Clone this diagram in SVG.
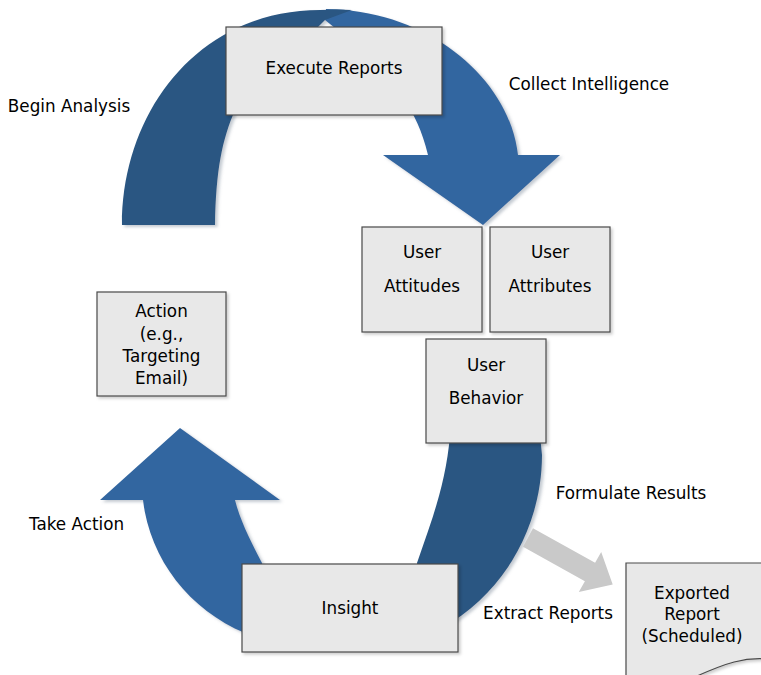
<svg xmlns="http://www.w3.org/2000/svg" width="761" height="675" viewBox="0 0 761 675">
<defs>
<filter id="sh" x="-10%" y="-10%" width="130%" height="130%">
<feDropShadow dx="2.5" dy="2" stdDeviation="1.5" flood-color="#7a8a9a" flood-opacity="0.45"/>
</filter>
<filter id="bs" x="-10%" y="-10%" width="130%" height="130%">
<feDropShadow dx="2" dy="2" stdDeviation="1.5" flood-color="#000" flood-opacity="0.2"/>
</filter>
</defs>
<style>
.box{fill:#e8e8e8;stroke:#4a4a4a;stroke-width:1.2;filter:url(#bs)}
.t{font-family:"DejaVu Sans",Verdana,sans-serif;font-size:16.8px;fill:#000;text-anchor:middle}
.dark{fill:#2b5782}
.light{fill:#3366a0}
.grey{fill:#c9c9c9}
</style>
<rect width="761" height="675" fill="#fff"/>
<g id="connectors">
<g filter="url(#sh)">
<path class="light" d="M325,20 L326,9 C430,10 510,80 518,155 L560,155 L483,225 L383,155 L428,155 C422,130 414,115 405,100 L350,40 Z"/>
<path class="dark" d="M122,225 C122,110 200,10 320,10 Q338,9 352,10 L325,20 L300,45 C270,60 245,80 235,110 C222,140 216,170 215,225 Z"/>
<path class="dark" d="M450,435 L540,435 L542,455 C542,520 510,585 452,622 L420,590 L417,563 C430,525 446,485 450,435 Z"/>
<path class="light" d="M180,428 L280,500 L235,500 C240,520 250,540 262,563 L268,600 L245,633 C190,610 150,560 143,500 L100,500 Z"/>
</g>
<path class="grey" d="M533,528.3 L595.1,562.8 L601.2,551.9 L612.7,584.6 L578.8,592.1 L584.9,581.2 L523,546.7 Z"/>
</g>
<g id="execute-reports">
<rect class="box" x="226" y="27" width="216" height="88"/>
<text class="t" x="334" y="74">Execute Reports</text>
</g>
<g id="user-attitudes">
<rect class="box" x="362" y="227" width="120" height="105"/>
<text class="t" x="422" y="258">User</text>
<text class="t" x="422" y="292">Attitudes</text>
</g>
<g id="user-attributes">
<rect class="box" x="490" y="227" width="120" height="105"/>
<text class="t" x="550" y="258">User</text>
<text class="t" x="550" y="292">Attributes</text>
</g>
<g id="user-behavior">
<rect class="box" x="426" y="339" width="120" height="104"/>
<text class="t" x="486" y="371">User</text>
<text class="t" x="486" y="404">Behavior</text>
</g>
<g id="action">
<rect class="box" x="97" y="292" width="129" height="104"/>
<text class="t" x="161.5" y="317">Action</text>
<text class="t" x="161.5" y="340">(e.g.,</text>
<text class="t" x="161.5" y="362">Targeting</text>
<text class="t" x="161.5" y="384">Email)</text>
</g>
<g id="insight">
<rect class="box" x="242" y="564" width="216" height="88"/>
<text class="t" x="350" y="614">Insight</text>
</g>
<g id="exported-report">
<path class="box" d="M626,563 H775 V660 C745,655 722,665 697,676 C672,688 645,690 626,684 Z"/>
<text class="t" x="692" y="599">Exported</text>
<text class="t" x="692" y="620">Report</text>
<text class="t" x="692" y="642">(Scheduled)</text>
</g>
<g id="labels">
<text class="t" x="69" y="112">Begin Analysis</text>
<text class="t" x="589" y="90">Collect Intelligence</text>
<text class="t" x="631" y="499">Formulate Results</text>
<text class="t" x="76.5" y="530">Take Action</text>
<text class="t" x="548" y="619">Extract Reports</text>
</g>
</svg>
